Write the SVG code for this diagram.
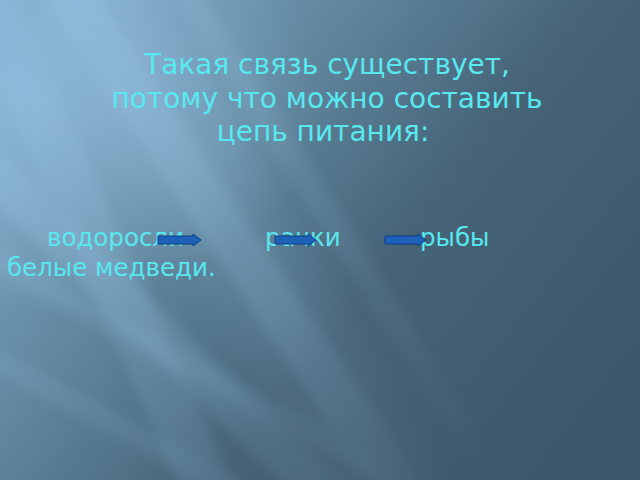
<svg xmlns="http://www.w3.org/2000/svg" width="640" height="480" viewBox="0 0 640 480">
<defs>
<linearGradient id="bg" x1="0" y1="0.2" x2="1" y2="0.8">
<stop offset="0" stop-color="#7ea8c8"/>
<stop offset="0.3" stop-color="#62889f"/>
<stop offset="0.6" stop-color="#466377"/>
<stop offset="1" stop-color="#3b5668"/>
</linearGradient>
<radialGradient id="glow" cx="0.05" cy="0.2" r="0.45">
<stop offset="0" stop-color="#92bddd" stop-opacity="0.7"/>
<stop offset="1" stop-color="#92bddd" stop-opacity="0"/>
</radialGradient>
<linearGradient id="fadeG" gradientUnits="userSpaceOnUse" x1="60" y1="60" x2="520" y2="440">
<stop offset="0" stop-color="#fff"/>
<stop offset="0.55" stop-color="#aaa"/>
<stop offset="1" stop-color="#000"/>
</linearGradient>
<mask id="fade" maskUnits="userSpaceOnUse" x="0" y="0" width="640" height="480">
<rect width="640" height="480" fill="url(#fadeG)"/>
</mask>
<filter id="blur" x="-50%" y="-50%" width="200%" height="200%"><feGaussianBlur stdDeviation="6"/></filter>
<filter id="blur2" x="-50%" y="-50%" width="200%" height="200%"><feGaussianBlur stdDeviation="20"/></filter>
<style>
.t{font-family:"DejaVu Sans","Verdana",sans-serif;fill:#58e8f0;}
.title{font-size:28px;text-anchor:middle;}
.body{font-size:24.5px;}
.arr{fill:#1d62b8;stroke:#0d3f86;stroke-width:1;}
.ray{stroke:#9cc6e6;stroke-linecap:butt;fill:none;}
</style>
</defs>
<rect width="640" height="480" fill="url(#bg)"/>
<rect width="640" height="480" fill="url(#glow)"/>
<g mask="url(#fade)">
<line class="ray" x1="60" y1="-50" x2="460" y2="600" stroke-width="110" opacity="0.18" filter="url(#blur2)"/>
<g filter="url(#blur)">
<line class="ray" x1="40" y1="-50" x2="500" y2="640" stroke-width="45" opacity="0.28"/>
<line class="ray" x1="160" y1="-50" x2="560" y2="580" stroke-width="25" opacity="0.18"/>
<line class="ray" x1="-60" y1="120" x2="420" y2="590" stroke-width="40" opacity="0.25"/>
<line class="ray" x1="-60" y1="230" x2="560" y2="570" stroke-width="22" opacity="0.2"/>
<line class="ray" x1="-60" y1="330" x2="440" y2="600" stroke-width="22" opacity="0.16"/>
<line class="ray" x1="-20" y1="-20" x2="240" y2="560" stroke-width="50" opacity="0.22"/>
</g>
</g>
<g id="title">
<text class="t title" x="327" y="74">Такая связь существует,</text>
<text class="t title" x="327" y="108">потому что можно составить</text>
<text class="t title" x="323" y="141">цепь питания:</text>
</g>
<g id="node-vodorosli"><text class="t body" x="47" y="246">водоросли</text></g>
<g id="node-rachki"><text class="t body" x="265" y="246">рачки</text></g>
<g id="node-ryby"><text class="t body" x="420" y="246">рыбы</text></g>
<g id="node-medvedi"><text class="t body" x="7" y="276">белые медведи.</text></g>
<g id="connectors">
<polygon class="arr" points="158,236 193,236 193,234 201,240 193,246 193,244 158,244"/>
<polygon class="arr" points="275,236 308,236 308,234 316,240 308,246 308,244 275,244"/>
<polygon class="arr" points="385,236 418,236 418,234 426,240 418,246 418,244 385,244"/>
</g>
</svg>
